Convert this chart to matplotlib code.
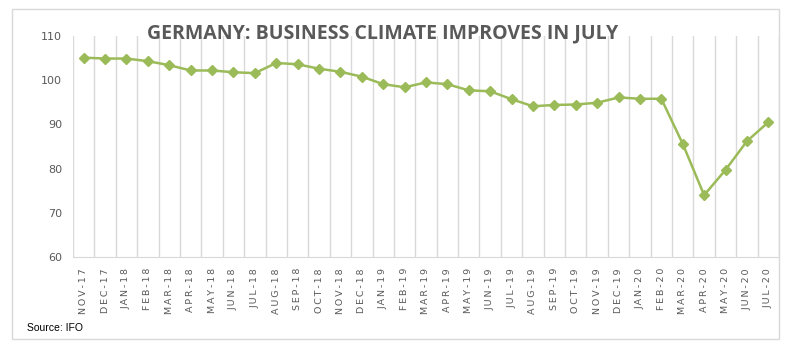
import matplotlib
matplotlib.use("Agg")
import matplotlib.pyplot as plt
from matplotlib.patches import Rectangle

# IFO business climate index, Nov 2017 - Jul 2020
months = ['NOV-17', 'DEC-17', 'JAN-18', 'FEB-18', 'MAR-18', 'APR-18', 'MAY-18',
          'JUN-18', 'JUL-18', 'AUG-18', 'SEP-18', 'OCT-18', 'NOV-18', 'DEC-18',
          'JAN-19', 'FEB-19', 'MAR-19', 'APR-19', 'MAY-19', 'JUN-19', 'JUL-19',
          'AUG-19', 'SEP-19', 'OCT-19', 'NOV-19', 'DEC-19', 'JAN-20', 'FEB-20',
          'MAR-20', 'APR-20', 'MAY-20', 'JUN-20', 'JUL-20']
values = [105.1, 104.9, 104.9, 104.3, 103.4, 102.2, 102.2,
          101.8, 101.6, 103.9, 103.6, 102.6, 101.9, 100.8,
          99.1, 98.4, 99.5, 99.1, 97.7, 97.5, 95.7,
          94.1, 94.4, 94.5, 94.9, 96.1, 95.8, 95.8,
          85.6, 74.0, 79.7, 86.2, 90.5]
yticks = [60, 70, 80, 90, 100, 110]

W, H = 802, 351
fig = plt.figure(figsize=(W / 100, H / 100), dpi=100)
ax = fig.add_axes([73 / W, 1 - 257 / H, (779 - 73) / W, (257 - 36) / H])

x = list(range(len(months)))
ax.plot(x, values, color='#9bbb59', lw=1.8, marker='D', ms=5.5,
        markerfacecolor='#9bbb59', markeredgecolor='#9bbb59', zorder=3)

ax.set_xlim(-0.5, len(months) - 0.5)
ax.set_ylim(60, 110)
ax.set_yticks(yticks)
ax.tick_params(axis='y', length=0, labelsize=8, labelcolor='#595959', pad=8)

# vertical gridlines between categories
for b in range(len(months) + 1):
    ax.axvline(b - 0.5, color='#d9d9d9', lw=1, zorder=1)

ax.set_xticks(x)
spaced = ['\u2009'.join(m) for m in months]
ax.set_xticklabels(spaced, rotation=90, fontsize=6.8, color='#595959')
ax.tick_params(axis='x', length=0, pad=8)

for s in ['top', 'right', 'left']:
    ax.spines[s].set_visible(False)
ax.spines['bottom'].set_color('#d9d9d9')

fig.text(383 / W, 1 - 33 / H, 'GERMANY: BUSINESS CLIMATE IMPROVES IN JULY',
         ha='center', va='center', fontsize=14, fontweight='bold',
         color='#595959', family='Open Sans')
fig.text(27 / W, 1 - 328 / H, 'Source: IFO', ha='left', va='center',
         fontsize=7.5, color='black', family='Liberation Sans')

fig.patches.append(Rectangle((12 / W, 1 - 339 / H), 767 / W, 330 / H,
                             transform=fig.transFigure, fill=False,
                             edgecolor='#d9d9d9', lw=1))

fig.savefig('out.png', dpi=100)
